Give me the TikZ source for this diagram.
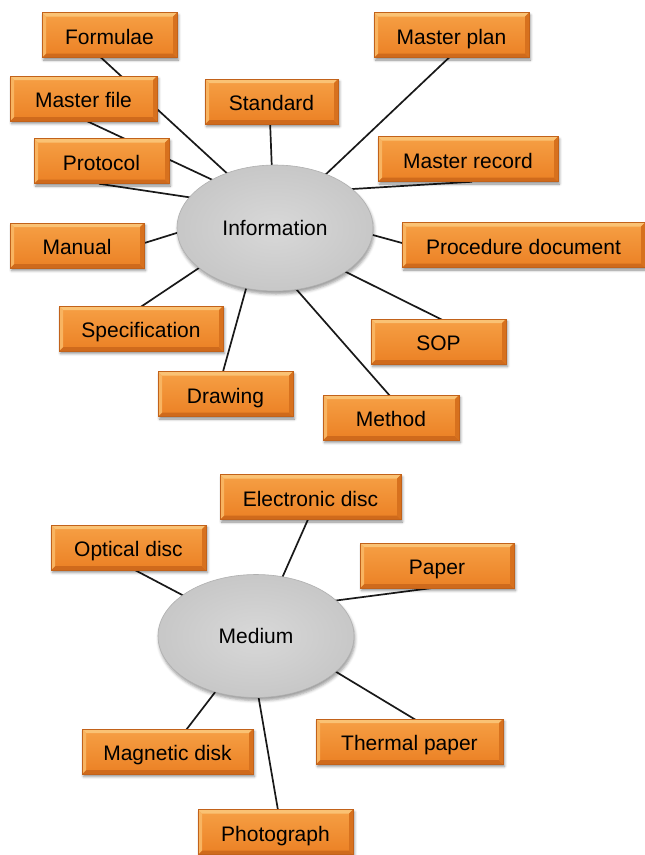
\documentclass[tikz,border=0pt]{standalone}
\usepackage{fontspec}
\setmainfont{Liberation Sans}
\usetikzlibrary{backgrounds,shadows.blur,shapes.geometric}

\definecolor{boxTop}{HTML}{F6A045}
\definecolor{boxBottom}{HTML}{EB8024}
\definecolor{boxLight}{HTML}{FAC274}
\definecolor{boxDark}{HTML}{CF6A1C}
\definecolor{boxRim}{HTML}{C2621A}
\definecolor{hubFill}{HTML}{D4D4D4}
\definecolor{hubEdge}{HTML}{B0B0B0}

\tikzset{
  x=1pt, y=-1pt,
  label font/.style={font=\fontsize{21}{25}\selectfont},
  termbox/.style={
    label font, rectangle, minimum height=45pt, inner sep=0pt,
    text height=19pt, text depth=1pt,
    top color=boxTop, bottom color=boxBottom,
    draw=boxRim, line width=0.5pt,
    blur shadow={shadow xshift=1.5pt, shadow yshift=-2.5pt,
                 shadow blur radius=2.5pt, shadow opacity=45},
    path picture={
      \fill[boxLight] (path picture bounding box.north west)
        -- (path picture bounding box.north east)
        -- ([xshift=-4pt,yshift=-4pt]path picture bounding box.north east)
        -- ([xshift=4pt,yshift=-4pt]path picture bounding box.north west) -- cycle;
      \fill[boxDark] (path picture bounding box.south west)
        -- (path picture bounding box.south east)
        -- ([xshift=-4pt,yshift=4pt]path picture bounding box.south east)
        -- ([xshift=4pt,yshift=4pt]path picture bounding box.south west) -- cycle;
      \fill[boxDark!70!boxBottom] (path picture bounding box.north east)
        -- (path picture bounding box.south east)
        -- ([xshift=-4pt,yshift=4pt]path picture bounding box.south east)
        -- ([xshift=-4pt,yshift=-4pt]path picture bounding box.north east) -- cycle;
      \fill[boxLight!60!boxTop] (path picture bounding box.north west)
        -- (path picture bounding box.south west)
        -- ([xshift=4pt,yshift=4pt]path picture bounding box.south west)
        -- ([xshift=4pt,yshift=-4pt]path picture bounding box.north west) -- cycle;
    }},
  hub/.style={
    label font, ellipse, inner sep=0pt,
    inner color=hubFill!90!white, outer color=hubFill!94!black,
    draw=hubEdge, line width=0.6pt,
    blur shadow={shadow xshift=1pt, shadow yshift=-3pt,
                 shadow blur radius=3pt, shadow opacity=40}},
  spoke/.style={draw=black!90, line width=1.7pt}
}

\begin{document}
\begin{tikzpicture}
\useasboundingbox (0,0) rectangle (645,855);

% ---------- Information ----------
\node[hub, minimum width=196pt, minimum height=126pt] (info) at (275,228) {Information};

\node[termbox, minimum width=135pt] (formulae)   at (109.5,35)  {Formulae};
\node[termbox, minimum width=147pt] (masterfile) at (83.5,98.5) {Master file};
\node[termbox, minimum width=135pt] (protocol)   at (101.5,161) {Protocol};
\node[termbox, minimum width=133pt] (standard)   at (271.5,101.5) {Standard};
\node[termbox, minimum width=155pt] (masterplan) at (451.5,35)  {Master plan};
\node[termbox, minimum width=180pt] (masterrec)  at (468,159)   {Master record};
\node[termbox, minimum width=243pt] (procdoc)    at (523.5,245) {Procedure document};
\node[termbox, minimum width=134pt] (manual)     at (77,245.5)  {Manual};
\node[termbox, minimum width=164pt] (spec)       at (141,328.5) {Specification};
\node[termbox, minimum width=135pt] (drawing)    at (225.5,394) {Drawing};
\node[termbox, minimum width=135pt] (sop)        at (438.5,341.5) {SOP};
\node[termbox, minimum width=136pt] (method)     at (391,417.5) {Method};

% ---------- Medium ----------
\node[hub, minimum width=196pt, minimum height=123pt] (medium) at (256,636) {Medium};

\node[termbox, minimum width=181pt] (edisc)    at (310.5,497)   {Electronic disc};
\node[termbox, minimum width=155pt] (odisc)    at (128.5,547.5) {Optical disc};
\node[termbox, minimum width=154pt] (paper)    at (437,565.5)   {Paper};
\node[termbox, minimum width=171pt] (magdisk)  at (167.5,751.5) {Magnetic disk};
\node[termbox, minimum width=187pt] (thermal)  at (409.5,741.5) {Thermal paper};
\node[termbox, minimum width=155pt] (photo)    at (275.5,832)   {Photograph};

% ---------- spokes, behind boxes and hubs ----------
\begin{scope}[on background layer]
  \draw[spoke] ([shift={(-10.5,-2)}]formulae.south)  -- ([shift={(-44,-51)}]info.center);
  \draw[spoke] ([shift={(-0.5,-2)}]masterfile.south) -- ([shift={(-58,-46)}]info.center);
  \draw[spoke] ([shift={(-2.5,0)}]protocol.south)    -- ([shift={(-81,-30)}]info.center);
  \draw[spoke] ([shift={(-1.5,-4)}]standard.south)   -- ([shift={(-3,-56)}]info.center);
  \draw[spoke] ([shift={(-0.5,-2)}]masterplan.south) -- ([shift={(48,-51)}]info.center);
  \draw[spoke] ([shift={(4,0)}]masterrec.south)      -- ([shift={(71,-38.6)}]info.center);
  \draw[spoke] ([shift={(4,-1)}]procdoc.west)        -- ([shift={(92,5.4)}]info.center);
  \draw[spoke] ([shift={(-3,-1.5)}]manual.east)      -- ([shift={(-92,3)}]info.center);
  \draw[spoke] ([shift={(0,1)}]spec.north)           -- ([shift={(-71,36.6)}]info.center);
  \draw[spoke] ([shift={(-3.5,4)}]drawing.north)     -- ([shift={(-27.4,55)}]info.center);
  \draw[spoke] ([shift={(5.1,1.8)}]sop.north)        -- ([shift={(67.6,42.3)}]info.center);
  \draw[spoke] ([shift={(0.6,3)}]method.north)       -- ([shift={(18,57.5)}]info.center);

  \draw[spoke] ([shift={(3,-2)}]odisc.south)         -- ([shift={(-68,-38)}]medium.center);
  \draw[spoke] ([shift={(-1,-3.7)}]edisc.south)      -- ([shift={(24.5,-54.5)}]medium.center);
  \draw[spoke] ([shift={(-3,-0.5)}]paper.south)      -- ([shift={(74,-34.7)}]medium.center);
  \draw[spoke] ([shift={(18,2)}]magdisk.north)       -- ([shift={(-39.4,54.2)}]medium.center);
  \draw[spoke] ([shift={(3.2,5)}]photo.north)        -- ([shift={(2,58)}]medium.center);
  \draw[spoke] ([shift={(6,1)}]thermal.north)        -- ([shift={(77,34)}]medium.center);
\end{scope}
\end{tikzpicture}
\end{document}
